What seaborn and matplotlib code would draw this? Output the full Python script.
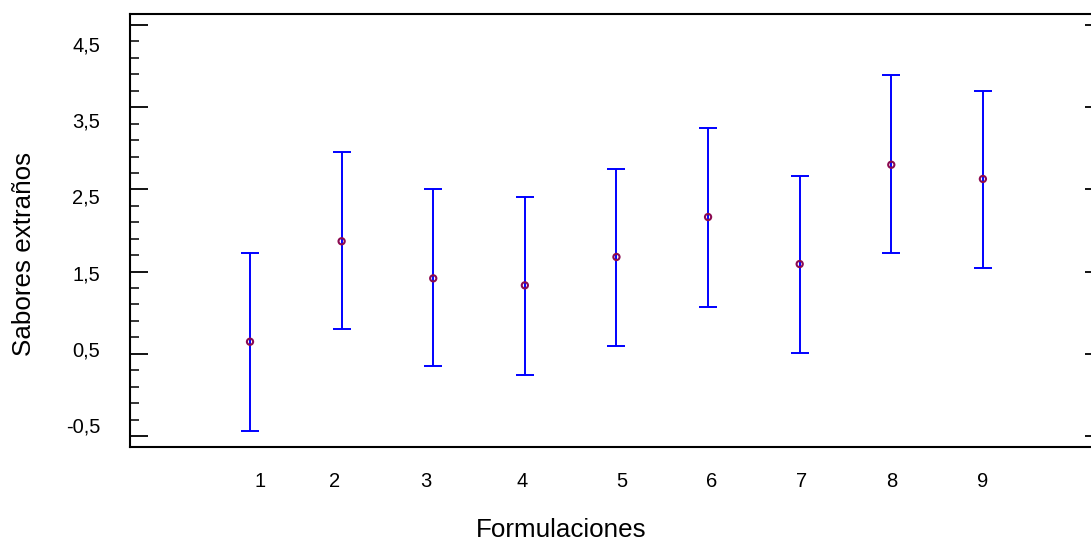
import numpy as np
import pandas as pd
import matplotlib
matplotlib.use("Agg")
import matplotlib.pyplot as plt
import matplotlib.transforms as mtransforms
from matplotlib.ticker import MultipleLocator
import seaborn as sns

# ---- data ----
formulaciones = [1, 2, 3, 4, 5, 6, 7, 8, 9]
medias = [0.647, 1.869, 1.418, 1.333, 1.678, 2.164, 1.592, 2.800, 2.627]
limite_inf = [-0.439, 0.802, 0.352, 0.246, 0.595, 1.073, 0.506, 1.726, 1.547]
limite_sup = [1.730, 2.959, 2.509, 2.408, 2.752, 3.251, 2.663, 3.888, 3.700]
x_tick_labels = ["1", "2", "3", "4", "5", "6", "7", "8", "9"]
y_ticks = [-0.5, 0.5, 1.5, 2.5, 3.5, 4.5]
y_tick_labels = ["-0,5", "0,5", "1,5", "2,5", "3,5", "4,5"]
x_label = "Formulaciones"
y_label = "Sabores extraños"

df = pd.DataFrame({"Formulacion": formulaciones, "Media": medias,
                   "Inf": limite_inf, "Sup": limite_sup})

sns.set_theme(style="white")
plt.rcParams["font.family"] = ["Liberation Sans", "DejaVu Sans"]

fig = plt.figure(figsize=(10.91, 5.42), dpi=100)
ax = fig.add_axes([130 / 1091, (542 - 446.7) / 542, 1 - 130 / 1091, (446.7 - 14.3) / 542])

err = np.vstack([df["Media"] - df["Inf"], df["Sup"] - df["Media"]])
ax.errorbar(df["Formulacion"], df["Media"], yerr=err, fmt="none",
            ecolor="#0000FF", elinewidth=1.4, capsize=6.5, capthick=1.4, zorder=2)
sns.scatterplot(data=df, x="Formulacion", y="Media", ax=ax, marker="o", s=20,
                facecolor="none", edgecolor="#8B0A50", linewidth=1.5, zorder=3,
                legend=False)

ax.set_xlim(-0.31, 10.18)
ax.set_ylim(-0.63, 4.63)

ax.set_xticks(formulaciones)
ax.set_xticklabels(x_tick_labels)
ax.set_yticks(y_ticks)
ax.set_yticklabels(y_tick_labels)
ax.yaxis.set_minor_locator(MultipleLocator(0.2, offset=0.1))

for s in ["left", "top", "bottom"]:
    ax.spines[s].set_visible(True)
    ax.spines[s].set_color("black")
    ax.spines[s].set_linewidth(1.5)
ax.spines["right"].set_visible(False)

ax.tick_params(axis="x", which="both", length=0, pad=18, labelsize=14.5, colors="black")
ax.tick_params(axis="y", which="major", direction="in", length=13, width=1.3,
               left=True, right=True, pad=21.5, labelsize=14.5, colors="black")
ax.tick_params(axis="y", which="minor", direction="in", length=6.5, width=1.3,
               left=True, right=False)
# right-side major ticks are short
for t in ax.yaxis.get_major_ticks():
    t.tick2line.set_markersize(4.3)

ax.set_xlabel(x_label, fontsize=18.7, color="black")
ax.set_ylabel(y_label, fontsize=18.7, color="black")
ax.xaxis.set_label_coords(0.4485, -0.166)
ax.yaxis.set_label_coords(-0.098, 0.4457)

# label placement offsets (pixels) as in the reference rendering
x_off = [10, -6.6, -7.3, -2.9, 5.5, 3.9, 2.3, 0.6, 0]
y_off = [-11, -5, 1, 7, 13, 19]
for lab, dx in zip(ax.get_xticklabels(), x_off):
    lab.set_transform(lab.get_transform() +
                      mtransforms.ScaledTranslation(dx / 100, 0, fig.dpi_scale_trans))
for lab, dy in zip(ax.get_yticklabels(), y_off):
    lab.set_transform(lab.get_transform() +
                      mtransforms.ScaledTranslation(0, -dy / 100, fig.dpi_scale_trans))

ax.grid(False)
fig.savefig("out.png", dpi=100, facecolor="white")
